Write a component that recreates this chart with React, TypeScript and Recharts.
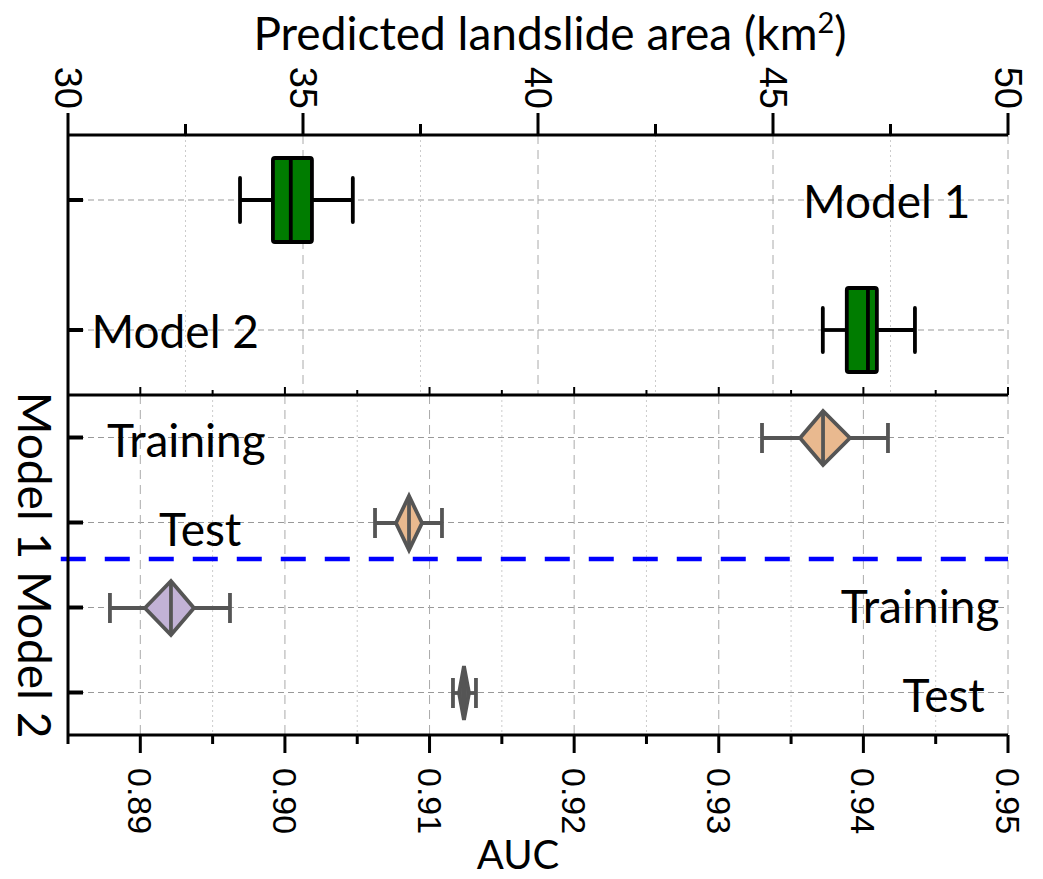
import {
  Bar, CartesianGrid, ComposedChart, Label, ReferenceDot, ReferenceLine, XAxis, YAxis,
} from "recharts";

// Upper panel: predicted landslide area (km²), box plots.
const MODELS = ["Model 1", "Model 2"];
const AREA_MIN = [33.66, 46.06];
const AREA_Q1 = [34.36, 46.57];
const AREA_MEDIAN = [34.74, 47.02];
const AREA_Q3 = [35.19, 47.21];
const AREA_MAX = [36.06, 48.02];
const AREA_TICKS = [30, 32.5, 35, 37.5, 40, 42.5, 45, 47.5, 50];

// Lower panel: AUC, diamonds with whiskers.
const RUNS = ["Model 1 Training", "Model 1 Test", "Model 2 Training", "Model 2 Test"];
const AUC_MIN = [0.93299, 0.90623, 0.8879, 0.91162];
const AUC_LOW = [0.93562, 0.90768, 0.89032, 0.91204];
const AUC_MEAN = [0.93721, 0.90858, 0.89212, 0.91238];
const AUC_HIGH = [0.93907, 0.90948, 0.89371, 0.91273];
const AUC_MAX = [0.9417, 0.91086, 0.8962, 0.91321];
const AUC_TICKS = [0.885, 0.89, 0.895, 0.9, 0.905, 0.91, 0.915, 0.92, 0.925, 0.93, 0.935, 0.94, 0.945, 0.95];

const RUN_FILL = ["#e9b98f", "#e9b98f", "#c2b2d6", "#5a5a5a"];

const areaRows = MODELS.map((name, i) => ({
  name, box: [AREA_Q1[i], AREA_Q3[i]],
  min: AREA_MIN[i], q1: AREA_Q1[i], med: AREA_MEDIAN[i], q3: AREA_Q3[i], max: AREA_MAX[i],
}));
const aucRows = RUNS.map((name, i) => ({
  name, box: [AUC_LOW[i], AUC_HIGH[i]],
  min: AUC_MIN[i], lo: AUC_LOW[i], mean: AUC_MEAN[i], hi: AUC_HIGH[i], max: AUC_MAX[i],
  fill: RUN_FILL[i],
}));

const AREA_MAJOR = AREA_TICKS.filter((v) => v % 5 === 0);
const AREA_MINOR = AREA_TICKS.filter((v) => v % 5 !== 0);
const isAucMajor = (v: number) => Math.round(v * 1000) % 10 === 0;
const AUC_MAJOR = AUC_TICKS.filter(isAucMajor);
const AUC_MINOR = AUC_TICKS.filter((v) => !isAucMajor(v));

// annotations, placed in data space
const AREA_NOTES = [
  { text: "Model 1", x: 49.2, row: "Model 1", anchor: "end" },
  { text: "Model 2", x: 30.5, row: "Model 2", anchor: "start" },
];
const AUC_NOTES = [
  { text: "Training", x: 0.8877, row: "Model 1 Training", anchor: "start", dy: 2 },
  { text: "Test", x: 0.8913, row: "Model 1 Test", anchor: "start", dy: 6 },
  { text: "Training", x: 0.9494, row: "Model 2 Training", anchor: "end", dy: -2 },
  { text: "Test", x: 0.9484, row: "Model 2 Test", anchor: "end", dy: 2 },
];
// the dashed separator sits at the lower edge of the last Model 1 row
const LAST_MODEL1_RUN = "Model 1 Test";

const SANS = "Lato, 'Open Sans', sans-serif";
const NUM = "'Liberation Sans', Arial, sans-serif";
const W = 1043;

function BoxShape(props: any) {
  const { x, y, width, height, payload: p } = props;
  const ppu = width / (p.q3 - p.q1);
  const px = (v: number) => x + (v - p.q1) * ppu;
  const cy = y + height / 2;
  const s = { stroke: "#000", strokeWidth: 3.8 };
  return (
    <g>
      <line x1={px(p.min)} x2={x} y1={cy} y2={cy} {...s} />
      <line x1={x + width} x2={px(p.max)} y1={cy} y2={cy} {...s} />
      <line x1={px(p.min)} x2={px(p.min)} y1={cy - 22} y2={cy + 22} {...s} strokeLinecap="round" />
      <line x1={px(p.max)} x2={px(p.max)} y1={cy - 22} y2={cy + 22} {...s} strokeLinecap="round" />
      <rect x={x} y={y} width={width} height={height} fill="#007c00" {...s} rx={2} />
      <line x1={px(p.med)} x2={px(p.med)} y1={y} y2={y + height} {...s} />
    </g>
  );
}

function DiamondShape(props: any) {
  const { x, y, width, height, payload: p } = props;
  const ppu = width / (p.hi - p.lo);
  const px = (v: number) => x + (v - p.lo) * ppu;
  const cy = y + height / 2;
  const cx = px(p.mean);
  const s = { stroke: "#555", strokeWidth: 3.8 };
  return (
    <g>
      <line x1={px(p.min)} x2={px(p.max)} y1={cy} y2={cy} {...s} />
      <line x1={px(p.min)} x2={px(p.min)} y1={cy - 15} y2={cy + 15} {...s} />
      <line x1={px(p.max)} x2={px(p.max)} y1={cy - 15} y2={cy + 15} {...s} />
      <polygon
        points={`${x},${cy} ${cx},${y} ${x + width},${cy} ${cx},${y + height}`}
        fill={p.fill} {...s} strokeLinejoin="miter"
      />
      <line x1={cx} x2={cx} y1={y} y2={y + height} {...s} />
    </g>
  );
}

function SeparatorShape(props: any) {
  const { x1, x2, y1, y2 } = props;
  return (
    <line
      x1={x1} x2={x2} y1={y1 - 6} y2={y2 - 6}
      stroke="#0000ff" strokeWidth={4.5} strokeDasharray="25 19"
    />
  );
}

function AreaTick({ x, y, payload }: any) {
  const major = payload.value % 5 === 0;
  return (
    <g>
      <line x1={x} x2={x} y1={y} y2={y - (major ? 22 : 11)} stroke="#000" strokeWidth={3} />
      {major && (
        <text
          x={x} y={y - 26} transform={`rotate(90, ${x}, ${y - 26})`} textAnchor="end"
          dominantBaseline="central" fontFamily={NUM} fontSize={38} fill="#000"
        >
          {payload.value}
        </text>
      )}
    </g>
  );
}

function AucTick({ x, y, payload }: any) {
  const major = isAucMajor(payload.value);
  return (
    <g>
      <line x1={x} x2={x} y1={y} y2={y + (major ? 18 : 9)} stroke="#000" strokeWidth={3} />
      {major && (
        <text
          x={x} y={y + 33} transform={`rotate(90, ${x}, ${y + 33})`} textAnchor="start"
          dominantBaseline="central" fontFamily={NUM} fontSize={34} fill="#000"
        >
          {payload.value.toFixed(2)}
        </text>
      )}
    </g>
  );
}

function EdgeTick({ x, y, payload }: any) {
  const major = isAucMajor(payload.value);
  return <line x1={x} x2={x} y1={y} y2={y - (major ? 8 : 5)} stroke="#000" strokeWidth={2} />;
}

function InwardTick({ x, y }: any) {
  return <line x1={x} x2={x + 15} y1={y} y2={y} stroke="#000" strokeWidth={4} />;
}

function note(text: string, anchor: string, dy = 0) {
  return (props: any) => {
    const vb = props.viewBox;
    return (
      <text
        x={vb.x + vb.width / 2} y={vb.y + vb.height / 2 + dy} textAnchor={anchor}
        dominantBaseline="central" fontFamily={SANS} fontSize={46} fill="#000"
      >
        {text}
      </text>
    );
  };
}

const FRAME = { stroke: "#000", strokeWidth: 3 };

function AreaPanel() {
  return (
    <ComposedChart
      layout="vertical" width={W} height={400} data={areaRows}
      margin={{ top: 0, right: 35, bottom: 5, left: 0 }}
    >
      <CartesianGrid xAxisId="top" vertical={false} stroke="#999" strokeDasharray="6 4" />
      <CartesianGrid xAxisId="top" horizontal={false} verticalValues={AREA_MAJOR} stroke="#aaa" strokeDasharray="9 6" />
      <CartesianGrid xAxisId="top" horizontal={false} verticalValues={AREA_MINOR} stroke="#ccc" strokeDasharray="2 3" />
      <XAxis
        xAxisId="top" orientation="top" type="number" domain={[30, 50]} ticks={AREA_TICKS}
        interval={0} height={135} tickSize={0} tickMargin={0} tick={<AreaTick />}
        axisLine={FRAME} allowDataOverflow
      >
        <Label
          content={(p: any) => (
            <text x={p.viewBox.x + p.viewBox.width / 2 + 12} y={50} textAnchor="middle"
              fontFamily={SANS} fontSize={46} fill="#000">
              Predicted landslide area (km
              <tspan dy={-17} fontSize={29}>2</tspan>
              <tspan dy={17}>)</tspan>
            </text>
          )}
        />
      </XAxis>
      <XAxis xAxisId="edge" orientation="bottom" type="number" domain={[30, 50]} height={0} tick={false} tickLine={false} axisLine={FRAME} />
      <YAxis
        type="category" dataKey="name" width={68} tickSize={0} tickMargin={0} interval={0}
        tick={<InwardTick />} axisLine={FRAME}
      />
      <YAxis yAxisId="right" orientation="right" type="number" width={0} tick={false} tickLine={false} axisLine={FRAME} />
      <Bar xAxisId="top" dataKey="box" barSize={84} shape={<BoxShape />} isAnimationActive={false} />
      {AREA_NOTES.map((n) => (
        <ReferenceDot
          key={n.text} xAxisId="top" x={n.x} y={n.row} r={1} fill="none" stroke="none"
          ifOverflow="visible" label={note(n.text, n.anchor)}
        />
      ))}
    </ComposedChart>
  );
}

function AucPanel() {
  return (
    <ComposedChart
      layout="vertical" width={W} height={499} data={aucRows}
      margin={{ top: 0, right: 35, bottom: 0, left: 0 }}
    >
      <CartesianGrid xAxisId="auc" vertical={false} stroke="#999" strokeDasharray="6 4" />
      <CartesianGrid xAxisId="auc" horizontal={false} verticalValues={AUC_MAJOR} stroke="#aaa" strokeDasharray="9 6" />
      <CartesianGrid xAxisId="auc" horizontal={false} verticalValues={AUC_MINOR} stroke="#ccc" strokeDasharray="2 3" />
      <XAxis
        xAxisId="edge" orientation="top" type="number" domain={[0.885, 0.95]} ticks={AUC_TICKS}
        interval={0} height={15} tickSize={0} tickMargin={0} tick={<EdgeTick />} axisLine={FRAME}
        allowDataOverflow
      />
      <XAxis
        xAxisId="auc" orientation="bottom" type="number" domain={[0.885, 0.95]} ticks={AUC_TICKS}
        interval={0} height={144} tickSize={0} tickMargin={0} tick={<AucTick />} axisLine={FRAME}
        allowDataOverflow
      >
        <Label
          content={(p: any) => (
            <text x={p.viewBox.x + p.viewBox.width / 2 - 20} y={p.viewBox.y + 134} textAnchor="middle"
              fontFamily={SANS} fontSize={40} fill="#000">
              AUC
            </text>
          )}
        />
      </XAxis>
      <YAxis
        type="category" dataKey="name" width={68} tickSize={0} tickMargin={0} interval={0}
        tick={<InwardTick />} axisLine={FRAME}
      >
        <Label
          content={(p: any) => {
            const cx = p.viewBox.x + 35;
            const cy = p.viewBox.y + p.viewBox.height / 2;
            return (
              <text x={cx} y={cy} transform={`rotate(90, ${cx}, ${cy})`} textAnchor="middle"
                dominantBaseline="central" fontFamily={SANS} fontSize={46} fill="#000">
                Model 1 Model 2
              </text>
            );
          }}
        />
      </YAxis>
      <YAxis yAxisId="right" orientation="right" type="number" width={0} tick={false} tickLine={false} axisLine={FRAME} />
      <Bar xAxisId="auc" dataKey="box" barSize={54} shape={<DiamondShape />} isAnimationActive={false} />
      <ReferenceLine
        xAxisId="auc" ifOverflow="visible" position="end"
        segment={[{ x: 0.8845, y: LAST_MODEL1_RUN }, { x: 0.95, y: LAST_MODEL1_RUN }]}
        shape={<SeparatorShape />}
      />
      {AUC_NOTES.map((n) => (
        <ReferenceDot
          key={n.row} xAxisId="auc" x={n.x} y={n.row} r={1} fill="none" stroke="none"
          ifOverflow="visible" label={note(n.text, n.anchor, n.dy)}
        />
      ))}
    </ComposedChart>
  );
}

export default function App() {
  return (
    <div style={{ position: "absolute", left: 0, top: 0, width: W, height: 879, background: "#fff" }}>
      <div style={{ position: "absolute", left: 0, top: 0 }}>
        <AreaPanel />
      </div>
      <div style={{ position: "absolute", left: 0, top: 380 }}>
        <AucPanel />
      </div>
    </div>
  );
}
